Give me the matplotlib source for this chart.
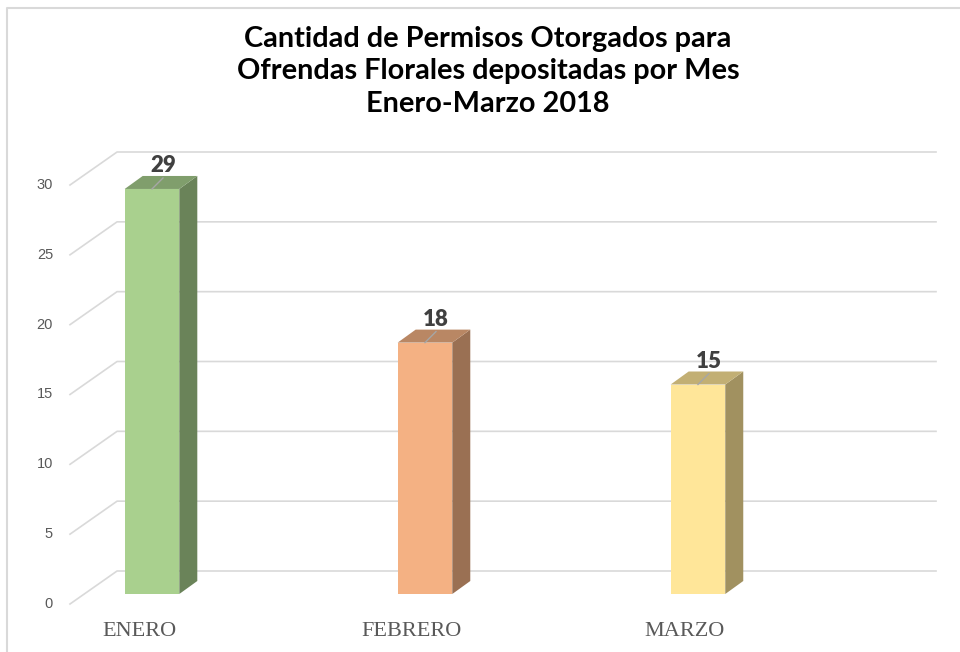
import matplotlib.pyplot as plt
from matplotlib.patches import Polygon
from matplotlib.lines import Line2D
from matplotlib.transforms import IdentityTransform

# data
months = ["ENERO", "FEBRERO", "MARZO"]
permits = [29, 18, 15]
front_colors = ["#a9d08e", "#f4b183", "#ffe699"]
y_ticks = [0, 5, 10, 15, 20, 25, 30]
title_lines = [
    "Cantidad de Permisos Otorgados para",
    "Ofrendas Florales depositadas por Mes",
    "Enero-Marzo 2018",
]

W, H = 960, 652
DPI = 100
BAR_W = 0.2          # bar width, in category units
DEPTH = (18, 13)     # bar depth offset, px (right, up)
GRID_BACK = 23       # back wall above the bar front plane, px
GRID_FRONT = -10     # front end of the floor/side lines, px
GRID_COLOR = "#d9d9d9"
TEXT_GRAY = "#595959"


def shade(hex_color, k):
    r, g, b = (int(hex_color[i:i + 2], 16) for i in (1, 3, 5))
    return (r * k / 255, g * k / 255, b * k / 255)


fig = plt.figure(figsize=(W / DPI, H / DPI), dpi=DPI)
ax = fig.add_axes([70 / W, (H - 594) / H, 866 / W, 419 / H])
ax.set_xlim(-0.3004, 2.872)
ax.set_ylim(0, 30)
ax.axis("off")
ax.set_zorder(2)
fig.canvas.draw()


def px(x, y, dx=0, dy=0):
    """data -> display pixels, plus an offset in pixels (dy up)."""
    X, Y = ax.transData.transform((x, y))
    return X + dx, Y + dy


ident = IdentityTransform()
x_left = ax.get_xlim()[0]
x_wall = -0.128

# gridlines: slanted side part + horizontal back part (behind the bars)
for v in y_ticks:
    p0 = px(x_left, v, 0, GRID_FRONT)
    p1 = px(x_wall, v, 0, GRID_BACK)
    p2 = px(ax.get_xlim()[1], v, 0, GRID_BACK)
    fig.add_artist(Line2D([p0[0], p1[0], p2[0]], [p0[1], p1[1], p2[1]],
                          transform=ident, color=GRID_COLOR, lw=1.2, zorder=1))
    fig.text(p0[0] - 17, p0[1], str(v), transform=ident, ha="right",
             va="center", fontsize=10.5, color=TEXT_GRAY,
             family="Liberation Sans")

# 3D-style bars
for i, (val, col) in enumerate(zip(permits, front_colors)):
    x0, x1 = i - BAR_W / 2, i + BAR_W / 2
    ax.bar(i, val, width=BAR_W, color=col, edgecolor="none", zorder=3)
    dx, dy = DEPTH
    side = [px(x1, 0), px(x1, 0, dx, dy), px(x1, val, dx, dy), px(x1, val)]
    top = [px(x0, val), px(x0, val, dx, dy), px(x1, val, dx, dy), px(x1, val)]
    fig.add_artist(Polygon(side, closed=True, transform=ident,
                           facecolor=shade(col, 0.63), edgecolor="none", zorder=3))
    fig.add_artist(Polygon(top, closed=True, transform=ident,
                           facecolor=shade(col, 0.76), edgecolor="none", zorder=3))
    # data label with leader line
    a = px(i, val)
    b = px(i, val, 11, 11)
    fig.add_artist(Line2D([a[0], b[0]], [a[1], b[1]], transform=ident,
                          color="#a6a6a6", lw=1, zorder=4))
    fig.text(b[0], b[1] + 2, str(val), transform=ident, ha="center",
             va="bottom", fontsize=16, fontweight="heavy", color="#404040",
             family="Lato", zorder=5)
    # category label
    c = px(i, 0, -13, -38)
    fig.text(c[0], c[1], months[i], transform=ident, ha="center",
             va="center", fontsize=16, color=TEXT_GRAY,
             family="Liberation Serif")

# title
for k, line in enumerate(title_lines):
    fig.text(488 / W, 1 - (47 + 32.5 * k) / H, line, ha="center",
             va="baseline", fontsize=20.8, fontweight="bold", color="black",
             family="Lato")

# chart area border (top and left edges visible)
fig.add_artist(Line2D([7 / W, 7 / W, 1], [0, 1 - 8 / H, 1 - 8 / H],
                      transform=fig.transFigure, color=GRID_COLOR, lw=1.5))

fig.savefig("out.png", dpi=DPI)
